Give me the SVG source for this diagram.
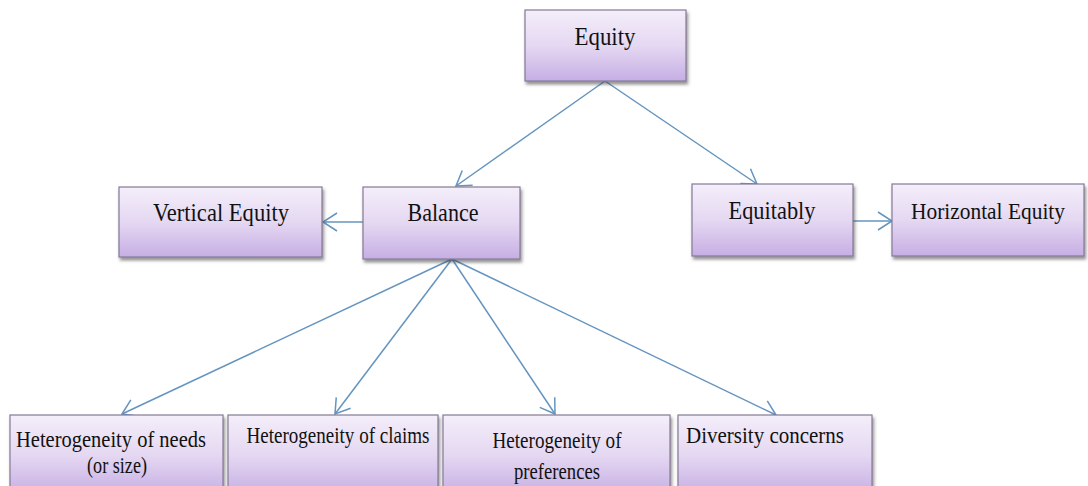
<svg xmlns="http://www.w3.org/2000/svg" width="1088" height="486" viewBox="0 0 1088 486">
<defs>
<linearGradient id="g" x1="0" y1="0" x2="0" y2="1">
<stop offset="0" stop-color="#f4eefa"/>
<stop offset="0.5" stop-color="#e5d8f2"/>
<stop offset="1" stop-color="#c6aee4"/>
</linearGradient>
<filter id="sh" x="-10%" y="-10%" width="125%" height="140%">
<feDropShadow dx="1.5" dy="3" stdDeviation="1.8" flood-color="#404040" flood-opacity="0.55"/>
</filter>
<marker id="ah" markerUnits="userSpaceOnUse" markerWidth="18" markerHeight="22" refX="14" refY="9" orient="auto" overflow="visible">
<path d="M0,0 L14,9 L0,18" fill="none" stroke="#6494bf" stroke-width="1.5"/>
</marker>
<style>
.box{fill:url(#g);stroke:#857896;stroke-width:1.2;filter:url(#sh)}
.t{font-family:"Liberation Serif","Times New Roman",serif;font-size:25px;fill:#111111;text-anchor:middle}
.s{font-family:"Liberation Serif","Times New Roman",serif;font-size:23px;fill:#111111;text-anchor:middle}
.c{stroke:#6494bf;stroke-width:1.5;fill:none;marker-end:url(#ah)}
</style>
</defs>
<rect width="1088" height="486" fill="#ffffff"/>
<g id="connectors">
<line class="c" x1="605" y1="81" x2="456" y2="186"/>
<line class="c" x1="605" y1="81" x2="757" y2="184"/>
<line class="c" x1="363" y1="222" x2="323" y2="222"/>
<line class="c" x1="853" y1="221" x2="892" y2="221"/>
<line class="c" x1="452" y1="259" x2="122" y2="414"/>
<line class="c" x1="452" y1="259" x2="335" y2="414"/>
<line class="c" x1="452" y1="259" x2="555" y2="414"/>
<line class="c" x1="452" y1="259" x2="776" y2="415"/>
</g>
<g id="equity">
<rect class="box" x="525" y="10" width="161" height="71"/>
<text class="t" x="605" y="45" textLength="61" lengthAdjust="spacingAndGlyphs">Equity</text>
</g>
<g id="vertical-equity">
<rect class="box" x="119" y="187" width="203" height="70"/>
<text class="t" x="221" y="221" textLength="136" lengthAdjust="spacingAndGlyphs">Vertical Equity</text>
</g>
<g id="balance">
<rect class="box" x="363" y="187" width="157" height="72"/>
<text class="t" x="443" y="221" textLength="71" lengthAdjust="spacingAndGlyphs">Balance</text>
</g>
<g id="equitably">
<rect class="box" x="692" y="184" width="161" height="72"/>
<text class="t" x="772" y="219" textLength="87" lengthAdjust="spacingAndGlyphs">Equitably</text>
</g>
<g id="horizontal-equity">
<rect class="box" x="892" y="184" width="192" height="72"/>
<text class="t" x="988" y="219" style="font-size:23px" textLength="154" lengthAdjust="spacingAndGlyphs">Horizontal Equity</text>
</g>
<g id="needs">
<rect class="box" x="10" y="415" width="213" height="80"/>
<text class="s" x="111" y="447" textLength="190" lengthAdjust="spacingAndGlyphs">Heterogeneity of needs</text>
<text class="s" x="117" y="473" textLength="60" lengthAdjust="spacingAndGlyphs">(or size)</text>
</g>
<g id="claims">
<rect class="box" x="228" y="415" width="210" height="80"/>
<text class="s" x="338" y="443" textLength="183" lengthAdjust="spacingAndGlyphs">Heterogeneity of claims</text>
</g>
<g id="preferences">
<rect class="box" x="443" y="415" width="227" height="80"/>
<text class="s" x="557" y="448" textLength="129" lengthAdjust="spacingAndGlyphs">Heterogeneity of</text>
<text class="s" x="557" y="479" textLength="86" lengthAdjust="spacingAndGlyphs">preferences</text>
</g>
<g id="diversity">
<rect class="box" x="678" y="415" width="194" height="80"/>
<text class="s" x="765" y="443" textLength="158" lengthAdjust="spacingAndGlyphs">Diversity concerns</text>
</g>
</svg>
